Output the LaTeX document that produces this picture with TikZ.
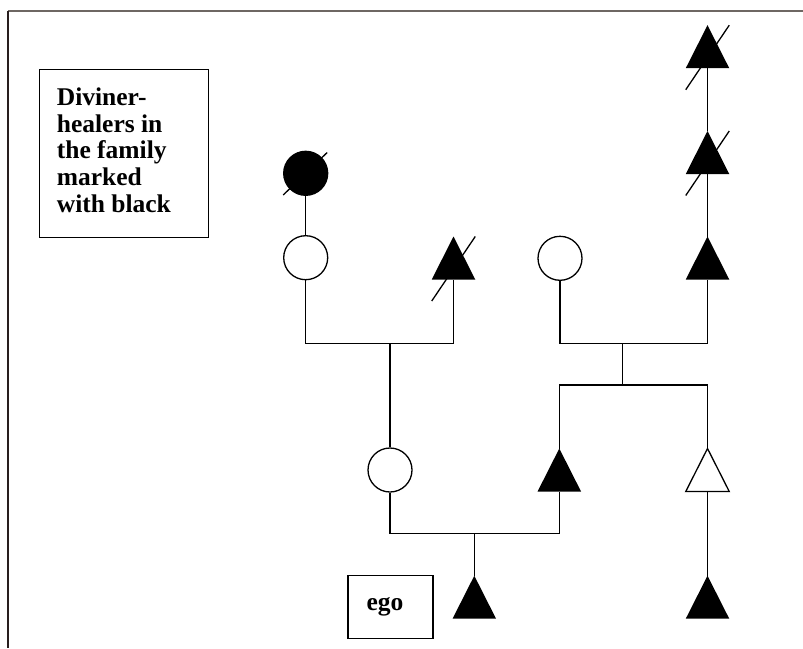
\documentclass[tikz,border=0pt]{standalone}
\usepackage{fontspec}
\setmainfont{Liberation Serif}
\newcommand{\legendfont}{\bfseries\fontsize{25.5}{26.9}\selectfont\lineskiplimit=-20pt\relax}
\begin{document}
\begin{tikzpicture}[x=1pt,y=-1pt,line width=1.3pt,
  person/.style={circle,draw,fill=white,minimum size=44pt,inner sep=0pt},
  healer/.style={person,fill=black},
  boxnode/.style={draw,line width=1.4pt,inner sep=0pt,anchor=north west},
  txt/.style={font=\legendfont,inner sep=0pt},
  trif/.pic={\fill (-21.75,21.5) -- (0,-21.5) -- (21.75,21.5) -- cycle;
    \coordinate (-n) at (0,-21.5); \coordinate (-s) at (0,21.5);},
  trio/.pic={\draw[fill=white] (-21.75,21.5) -- (0,-21.5) -- (21.75,21.5) -- cycle;
    \coordinate (-n) at (0,-21.5); \coordinate (-s) at (0,21.5);},
  trid/.pic={\fill (-21.75,21.5) -- (0,-21.5) -- (21.75,21.5) -- cycle;
    \draw (-21.75,43) -- (21.75,-21.5);
    \coordinate (-n) at (0,-21.5); \coordinate (-s) at (0,21.5);}
]
\useasboundingbox (0,0) rectangle (803,648);
\fill[white] (0,0) rectangle (803,648);
% frame
\draw[line width=1.6pt,color={rgb,255:red,110;green,103;blue,99}] (8,11) -- (803,11);
\draw[line width=1.4pt,color={rgb,255:red,40;green,30;blue,30}] (8,11) -- (8,648);

% legend
\node[boxnode,minimum width=169pt,minimum height=168pt] (legend) at (39,69) {};
\node[txt,anchor=north west,align=left] (legendtxt) at (56.2,86.8)
  {Diviner-\\healers in\\the family\\marked\\with black};

% ego box
\node[boxnode,minimum width=85pt,minimum height=63pt] (egobox) at (347.3,575) {};
\node[txt,anchor=base] (egotxt) at (385,610) {ego};

% connector junctions
\coordinate (m1) at (390,343.3);
\coordinate (m2) at (622.7,343.3);
\coordinate (m3) at (622.7,385);
\coordinate (m4) at (474.3,533.3);

% people
\node[healer] (fc) at (305.7,173.3) {};
\node[person] (c2) at (305.7,257.7) {};
\node[person] (c4) at (560,258.3) {};
\node[person] (c3) at (390,470) {};
\pic (lt) at (453.5,258) {trid};
\pic (rt1) at (707.5,46.7) {trid};
\pic (rt2) at (707.5,152.5) {trid};
\pic (rt3) at (707.5,258) {trif};
\pic (t4) at (559.3,470) {trif};
\pic (t5) at (707.5,470) {trio};
\pic (ego) at (474.3,597.2) {trif};
\pic (t6) at (707.5,597.2) {trif};

\draw (fc.center) ++(-22.5,21.7) -- ++(44,-42.5);

\draw (fc) -- (c2);
\draw (c2.south) |- (m1) -| (lt-s);
\draw (m1) -- (c3.north);
\draw (c4.south) |- (m2) -| (rt3-s);
\draw (m2) -- (m3);
\draw (t4-n) |- (m3) -| (t5-n);
\draw (rt1-s) -- (rt2-n);
\draw (rt2-s) -- (rt3-n);
\draw (c3.south) |- (m4) -| (t4-s);
\draw (m4) -- (ego-n);
\draw (t5-s) -- (t6-n);
\end{tikzpicture}
\end{document}
